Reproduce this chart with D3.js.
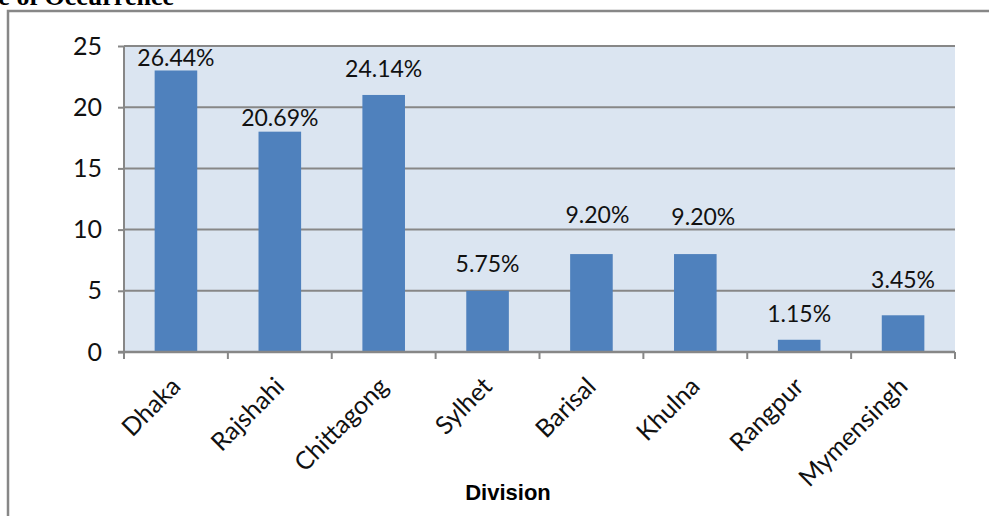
<!DOCTYPE html>
<html>
<head>
<meta charset="utf-8">
<script src="https://cdn.jsdelivr.net/npm/d3@7"></script>
<style>
  body { margin: 0; background: #fff; }
  svg { display: block; }
</style>
</head>
<body>
<svg></svg>
<script>
const divisions = ["Dhaka", "Rajshahi", "Chittagong", "Sylhet", "Barisal", "Khulna", "Rangpur", "Mymensingh"];
const counts = [23, 18, 21, 5, 8, 8, 1, 3];
const shares = ["26.44%", "20.69%", "24.14%", "5.75%", "9.20%", "9.20%", "1.15%", "3.45%"];
const yTicks = [0, 5, 10, 15, 20, 25];
// labels were hand placed in the original: px offsets from the bar top centre
const labelLift = [4, 6, 18, 19, 31, 29, 18, 27];
const labelShift = [0, 0, 0, 0, 6, 8, 0, 0];

const W = 989, H = 516;
const plot = { left: 124, right: 955, top: 46, bottom: 352 };
const grey = "#878787";
const font = "Lato, 'Open Sans', sans-serif";

const svg = d3.select("svg").attr("width", W).attr("height", H);

// outer frame, runs off the right and bottom edges
svg.append("rect")
  .attr("x", 8).attr("y", 11)
  .attr("width", W + 20).attr("height", H + 20)
  .attr("fill", "none")
  .attr("stroke", grey)
  .attr("stroke-width", 2.5);

// clipped title from the page above
svg.append("text")
  .attr("x", 174).attr("y", 5)
  .attr("text-anchor", "end")
  .style("font-family", "'Liberation Serif', 'Times New Roman', serif")
  .style("font-weight", "bold")
  .style("font-size", "26px")
  .text("Percentage of Occurrence");

const x = d3.scaleBand()
  .domain(divisions)
  .range([plot.left, plot.right])
  .paddingInner(0.59)
  .paddingOuter(0.295);

const y = d3.scaleLinear()
  .domain([0, 25])
  .range([plot.bottom, plot.top]);

svg.append("rect")
  .attr("x", plot.left).attr("y", plot.top)
  .attr("width", plot.right - plot.left)
  .attr("height", plot.bottom - plot.top)
  .attr("fill", "#dbe5f1");

// gridlines
svg.append("g")
  .selectAll("line")
  .data(yTicks.filter(d => d > 0))
  .join("line")
  .attr("x1", plot.left).attr("x2", plot.right)
  .attr("y1", d => y(d)).attr("y2", d => y(d))
  .attr("stroke", grey)
  .attr("stroke-width", 2);

// bars
svg.append("g")
  .selectAll("rect")
  .data(counts)
  .join("rect")
  .attr("x", (d, i) => x(divisions[i]))
  .attr("y", d => y(d))
  .attr("width", x.bandwidth())
  .attr("height", d => y(0) - y(d))
  .attr("fill", "#4f81bd");

// data labels
svg.append("g")
  .selectAll("text")
  .data(counts)
  .join("text")
  .attr("x", (d, i) => x(divisions[i]) + x.bandwidth() / 2 + labelShift[i])
  .attr("y", (d, i) => y(d) - labelLift[i])
  .attr("text-anchor", "middle")
  .style("font-family", font)
  .style("font-size", "23px")
  .style("fill", "#111")
  .text((d, i) => shares[i]);

// y axis
const yAxis = svg.append("g")
  .attr("transform", `translate(${plot.left},0)`)
  .call(d3.axisLeft(y).tickValues(yTicks).tickSize(6).tickPadding(16));
yAxis.select(".domain").remove();
yAxis.selectAll("line").attr("stroke", grey).attr("stroke-width", 2);
yAxis.selectAll("text")
  .style("font-family", font)
  .style("font-size", "25px")
  .style("fill", "#111");
svg.append("line")
  .attr("x1", plot.left).attr("x2", plot.left)
  .attr("y1", plot.top).attr("y2", plot.bottom + 6)
  .attr("stroke", grey).attr("stroke-width", 2);

// x axis
svg.append("line")
  .attr("x1", plot.left - 6).attr("x2", plot.right)
  .attr("y1", plot.bottom).attr("y2", plot.bottom)
  .attr("stroke", grey).attr("stroke-width", 2.5);

const step = x.step();
svg.append("g")
  .selectAll("line")
  .data(d3.range(divisions.length + 1))
  .join("line")
  .attr("x1", i => plot.left + i * step).attr("x2", i => plot.left + i * step)
  .attr("y1", plot.bottom).attr("y2", plot.bottom + 7)
  .attr("stroke", grey).attr("stroke-width", 2);

svg.append("g")
  .selectAll("text")
  .data(divisions)
  .join("text")
  .attr("transform", d => `translate(${x(d) + x.bandwidth() / 2 + 6},${plot.bottom + 36}) rotate(-45)`)
  .attr("text-anchor", "end")
  .style("font-family", font)
  .style("font-size", "25px")
  .style("fill", "#111")
  .text(d => d);

svg.append("text")
  .attr("x", 508).attr("y", 500)
  .attr("text-anchor", "middle")
  .style("font-family", "'Liberation Sans', Arial, sans-serif")
  .style("font-weight", "bold")
  .style("font-size", "22px")
  .text("Division");
</script>
</body>
</html>
